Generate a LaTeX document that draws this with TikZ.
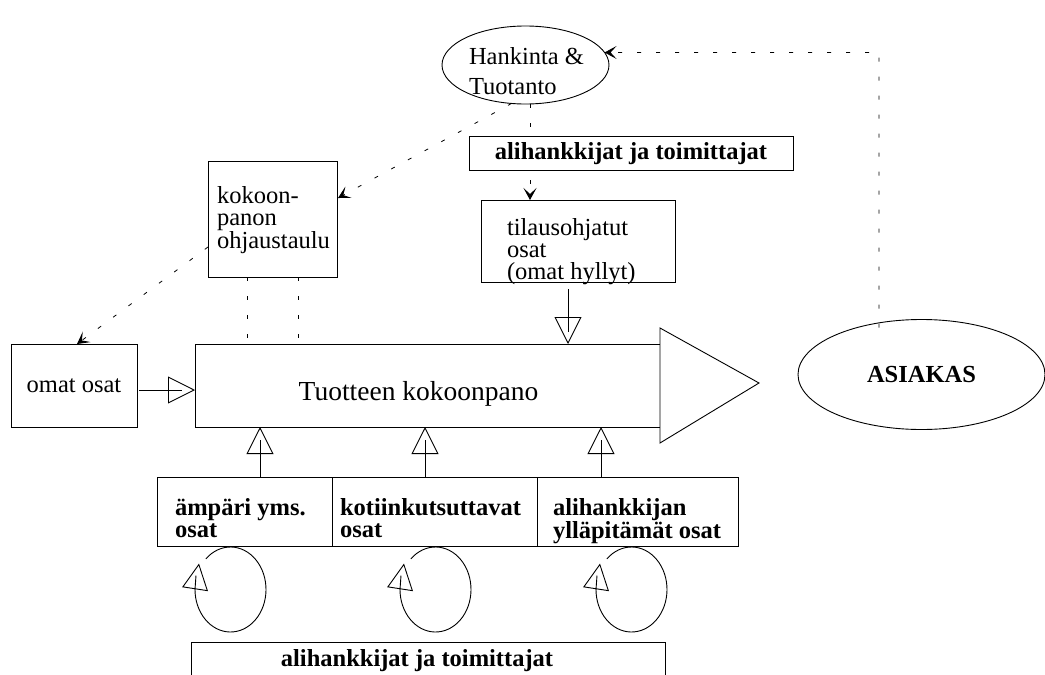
\documentclass[tikz,border=0pt]{standalone}
\usepackage{fontspec}
\setmainfont{Liberation Serif}
\usetikzlibrary{shapes.geometric,arrows.meta,calc}

\begin{document}
\begin{tikzpicture}[x=1pt,y=-1pt,
  every node/.style={inner sep=0pt, outer sep=0pt},
  txt/.style={font=\fontsize{24.5}{22}\selectfont, align=left, anchor=north west},
  btxt/.style={font=\fontsize{24.5}{22}\selectfont\bfseries, align=left, anchor=north west},
  box/.style={draw, line width=0.9pt, rectangle, fill=white},
  oval/.style={draw, line width=0.9pt, ellipse},
  dsh/.style={line width=0.8pt, dash pattern=on 4pt off 15pt},
  dtip/.style={-{Stealth[length=12pt,width=13pt,inset=6pt]}},
  stem/.style={line width=0.9pt},
  otip/.style={line width=0.9pt,-{Triangle[open,length=27pt,width=27pt]}},
  looptip/.style={line width=0.9pt,-{Triangle[open,length=26pt,width=26pt]}},
]
\clip (0,0) rectangle (1045,675);
\fill[white] (0,0) rectangle (1045,675);

% procurement & production
\node[oval, minimum width=167pt, minimum height=78pt] (hank) at (525.5,65) {};
\node[txt, anchor=base west] (hankA) at (469,64) {Hankinta \&};
\node[txt, anchor=base west] (hankB) at (469,94) {Tuotanto};

% control board for the assembly
\node[box, minimum width=129pt, minimum height=116pt] (kokoon) at (272.5,219) {};
\node[txt] (kokoonT) at (217,186) {kokoon-\\panon\\ohjaustaulu};

% order-controlled parts
\node[box, minimum width=194pt, minimum height=82pt] (tilaus) at (578,241) {};
\node[txt] (tilausT) at (507,218.5) {tilausohjatut\\osat\\(omat hyllyt)};

% the assembly itself, with its output arrow
\node[box, minimum width=465pt, minimum height=83pt] (main) at (427.5,385.5) {};
\draw[line width=0.9pt, fill=white] ($(main.east)+(0,-57.5)$) -- ($(main.east)+(99,-2.5)$)
  -- ($(main.east)+(0,57.5)$) -- cycle;
\node[font=\fontsize{27.5}{30}\selectfont, anchor=base] (mainT) at (418.5,400) {Tuotteen kokoonpano};

% own parts
\node[box, minimum width=126pt, minimum height=83pt, font=\fontsize{24.5}{26}\selectfont] (omat) at (74,385.5) {omat osat};

% customer
\node[oval, minimum width=247pt, minimum height=110pt, font=\fontsize{24.5}{26}\selectfont\bfseries] (asiakas) at (921.5,374.5) {ASIAKAS};

% parts supplied from below
\node[box, minimum width=175pt, minimum height=69pt] (low1) at (244.5,511.5) {};
\node[box, minimum width=205pt, minimum height=69pt] (low2) at (434.5,511.5) {};
\node[box, minimum width=201pt, minimum height=69pt] (low3) at (637.5,511.5) {};
\node[btxt] (low1T) at (175,498.5) {ämpäri yms.\\osat};
\node[btxt] (low2T) at (340,498.5) {kotiinkutsuttavat\\osat};
\node[btxt] (low3T) at (553,498.5) {alihankkijan\\ylläpitämät osat};

% suppliers at the bottom
\node[box, minimum width=474pt, minimum height=60pt] (supBot) at (428,672) {};
\node[font=\fontsize{24.5}{26}\selectfont\bfseries, anchor=base] (supBotT) at (417,666.5) {alihankkijat ja toimittajat};

% dashed information flows
\coordinate (turn) at (879,52.5);
\draw[dsh, dtip] ($(asiakas.north -| turn)+(0,8)$) -- (turn) -- (hank.9);
\draw[dsh, dtip] (hank.250) -- ($(kokoon.east)+(1,-21)$);
\draw[dsh, dtip] ($(kokoon.west)+(0,28)$) -- ($(omat.north)+(3,0)$);
\coordinate (ka) at ($(kokoon.south)+(-25.5,0)$);
\coordinate (kb) at ($(kokoon.south)+(25.5,0)$);
\draw[dsh] (ka) -- (ka |- main.north);
\draw[dsh] (kb) -- (kb |- main.north);
\coordinate (ht) at (530,0);
\draw[dsh, dtip] (hank.south -| ht) -- (tilaus.north -| ht);

% suppliers at the top
\node[box, minimum width=324pt, minimum height=34pt, font=\fontsize{24.5}{26}\selectfont\bfseries] (supTop) at (631,153.5) {alihankkijat ja toimittajat};

% material flows into the assembly
\coordinate (tm) at (568,0);
\draw[stem, shorten >=12pt] ($(tilaus.south -| tm)+(0,7)$) -- (main.north -| tm);
\draw[otip] ($(tilaus.south -| tm)+(0,7)$) -- (main.north -| tm);

\coordinate (om) at (0,390);
\draw[stem, shorten <=2pt, shorten >=13pt] (omat.east |- om) -- (main.west |- om);
\draw[otip, shorten <=2pt] (omat.east |- om) -- (main.west |- om);

\foreach \lb/\ux in {low1/260, low2/425, low3/601}{
  \coordinate (u-\lb) at (\ux,0);
  \draw[stem, shorten >=13pt] (\lb.north -| u-\lb) -- (main.south -| u-\lb);
  \draw[otip] (\lb.north -| u-\lb) -- (main.south -| u-\lb);
}

% replenishment loops
\coordinate (loopA) at (230.5,589.5);
\coordinate (loopB) at (435.5,589.5);
\coordinate (loopC) at (631.5,589.5);
\foreach \lp in {loopA, loopB, loopC}{
  \draw[stem] ($(\lp)+(134:35.5pt and 42.5pt)$)
    arc[start angle=134, end angle=-180, x radius=35.5pt, y radius=42.5pt] -- ++(1pt,14pt);
  \draw[looptip] ($(\lp)+(-35.5pt,0pt)$) -- ++(4pt,26pt);
}
\end{tikzpicture}
\end{document}
